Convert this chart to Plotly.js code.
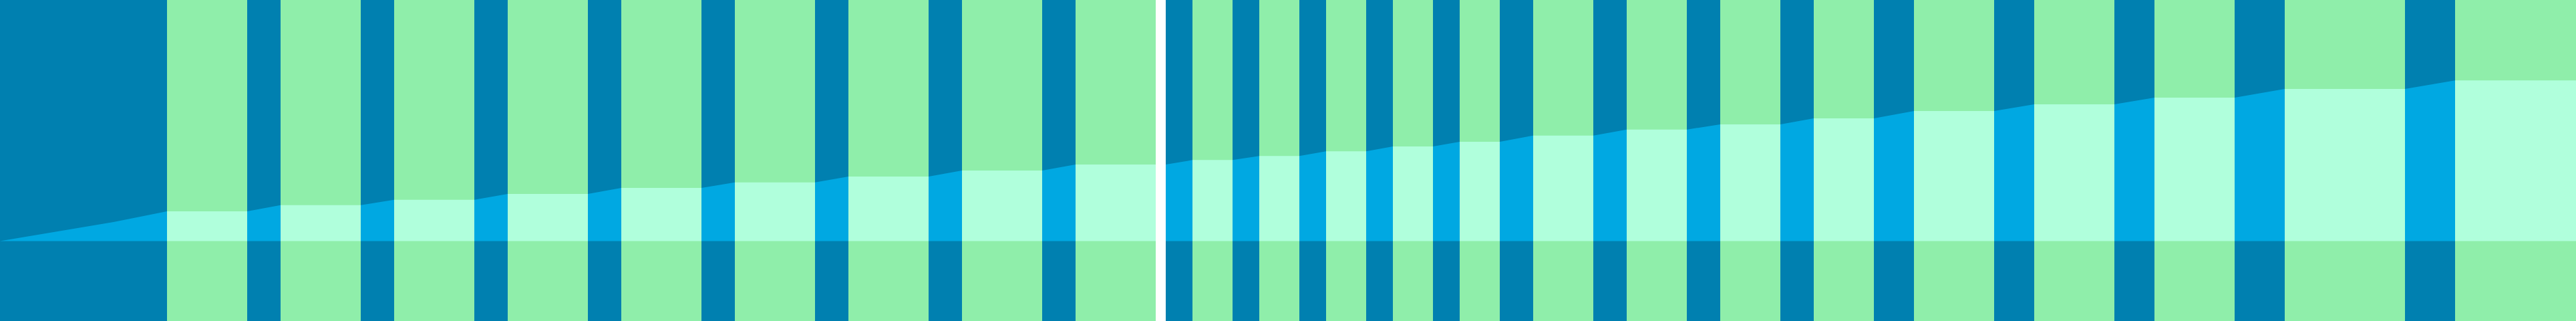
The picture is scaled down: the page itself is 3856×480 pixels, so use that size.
<!DOCTYPE html>
<html>
<head>
<meta charset="utf-8">
<script src="https://cdn.plot.ly/plotly-3.0.1.min.js"></script>
<style>html,body{margin:0;padding:0;background:#fff;}#chart{width:3856px;height:480px;}</style>
</head>
<body>
<div id="chart"></div>
<script>
// Period bands: start, end, kind ("D" = dark blue period, "G" = green period)
const bandStart = [0,250,370,420,540,590,710,760,880,930,1050,1100,1220,1270,1390,1440,1560,1610,
  1745,1785,1845,1885,1945,1985,2045,2085,2145,2185,2245,2295,2385,2435,2525,2575,2665,2715,2805,2865,2985,3045,3165,3225,3345,3420,3600,3675];
const bandEnd = [250,370,420,540,590,710,760,880,930,1050,1100,1220,1270,1390,1440,1560,1610,1730,
  1785,1845,1885,1945,1985,2045,2085,2145,2185,2245,2295,2385,2435,2525,2575,2665,2715,2805,2865,2985,3045,3165,3225,3345,3420,3600,3675,3856];
const bandKind = ["D","G","D","G","D","G","D","G","D","G","D","G","D","G","D","G","D","G",
  "D","G","D","G","D","G","D","G","D","G","D","G","D","G","D","G","D","G","D","G","D","G","D","G","D","G","D","G"];

// Cumulative series
const seriesX = [0,170,250,370,420,540,590,710,760,880,930,1050,1100,1220,1270,1390,1440,1560,1610,1730,
  1745,1785,1845,1885,1945,1985,2045,2085,2145,2185,2245,2295,2385,2435,2525,2575,2665,2715,2805,2865,2985,3045,3165,3225,3345,3420,3600,3675,3856];
const seriesY = [0,28.5,44.5,44.5,53.8,53.8,61.8,61.8,70.5,70.5,79.5,79.5,87.8,87.8,96.5,96.5,105.5,105.5,114.5,114.5,
  114.5,121.2,121.2,127.2,127.2,134.2,134.2,141.5,141.5,148.5,148.5,157.8,157.8,166.8,166.8,174.5,174.5,183.5,183.5,194.5,194.5,204.5,204.5,214.5,214.5,227.5,227.5,240.2,240.2];

const bandColor = {D: "#0080B0", G: "#8FEEAA"};
const fillColor = {D: "#00A8E2", G: "#B0FFDC"};

const shapes = bandStart.map((s, i) => ({
  type: "rect", xref: "x", yref: "paper", x0: s, x1: bandEnd[i], y0: 0, y1: 1,
  fillcolor: bandColor[bandKind[i]], line: {width: 0}, layer: "below"
}));

const traces = bandStart.map((s, i) => {
  const xs = [], ys = [];
  seriesX.forEach((x, j) => { if (x >= s && x <= bandEnd[i]) { xs.push(x); ys.push(seriesY[j]); } });
  return {
    type: "scatter", mode: "lines", x: xs, y: ys, fill: "tozeroy",
    fillcolor: fillColor[bandKind[i]], line: {width: 0, color: fillColor[bandKind[i]]},
    hoverinfo: "skip", showlegend: false
  };
});

const layout = {
  width: 3856, height: 480,
  margin: {l: 0, r: 0, t: 0, b: 0, pad: 0},
  paper_bgcolor: "#ffffff", plot_bgcolor: "#ffffff",
  xaxis: {range: [0, 3856], visible: false, fixedrange: true},
  yaxis: {range: [-119.5, 360.5], visible: false, fixedrange: true},
  showlegend: false,
  shapes: shapes
};

Plotly.newPlot("chart", traces, layout, {displayModeBar: false, staticPlot: true});
</script>
</body>
</html>
